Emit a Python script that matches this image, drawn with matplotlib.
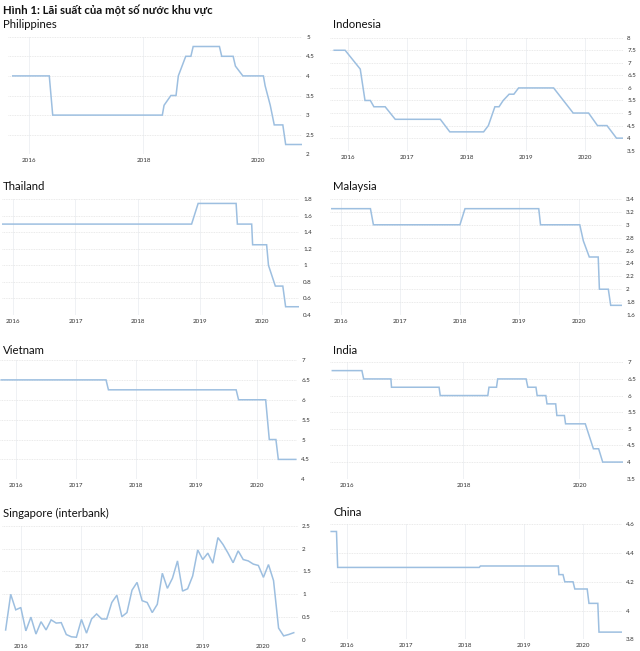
import matplotlib.pyplot as plt
import numpy as np

plt.rcParams['font.family'] = ['Lato', 'DejaVu Sans']

# decimal-year breakpoints and policy rates
ph_x = [2015.71, 2016.35, 2016.41, 2018.33, 2018.36, 2018.48, 2018.57, 2018.61, 2018.74, 2018.83,
        2018.87, 2019.33, 2019.37, 2019.57, 2019.61, 2019.74, 2020.10, 2020.13, 2020.22, 2020.29,
        2020.44, 2020.49, 2020.77]
ph_y = [4.0, 4.0, 3.0, 3.0, 3.25, 3.5, 3.5, 4.0, 4.5, 4.5,
        4.75, 4.75, 4.5, 4.5, 4.25, 4.0, 4.0, 3.75, 3.25, 2.75,
        2.75, 2.25, 2.25]

id_x = [2015.77, 2015.955, 2016.21, 2016.29, 2016.38, 2016.44, 2016.63, 2016.80, 2017.56, 2017.72,
        2018.29, 2018.37, 2018.48, 2018.55, 2018.62, 2018.72, 2018.80, 2018.88, 2019.47, 2019.80,
        2020.06, 2020.21, 2020.37, 2020.53, 2020.63]
id_y = [7.5, 7.5, 6.75, 5.5, 5.5, 5.25, 5.25, 4.75, 4.75, 4.25,
        4.25, 4.5, 5.25, 5.25, 5.5, 5.75, 5.75, 6.0, 6.0, 5.0,
        5.0, 4.5, 4.5, 4.0, 4.0]

th_x = [2015.83, 2018.865, 2018.97, 2019.58, 2019.60, 2019.83, 2019.845, 2020.07, 2020.10, 2020.21,
        2020.33, 2020.375, 2020.59]
th_y = [1.5, 1.5, 1.75, 1.75, 1.5, 1.5, 1.25, 1.25, 1.0, 0.75,
        0.75, 0.5, 0.5]

my_x = [2015.85, 2016.50, 2016.55, 2018.005, 2018.09, 2019.33, 2019.36, 2020.02, 2020.08, 2020.18,
        2020.33, 2020.35, 2020.50, 2020.54, 2020.72]
my_y = [3.25, 3.25, 3.0, 3.0, 3.25, 3.25, 3.0, 3.0, 2.75, 2.5,
        2.5, 2.0, 2.0, 1.75, 1.75]

vn_x = [2015.76, 2017.50, 2017.54, 2019.66, 2019.70, 2020.15, 2020.21, 2020.32, 2020.36, 2020.65]
vn_y = [6.5, 6.5, 6.25, 6.25, 6.0, 6.0, 5.0, 5.0, 4.5, 4.5]

in_x = [2015.74, 2016.25, 2016.28, 2016.75, 2016.76, 2017.58, 2017.60, 2018.42, 2018.44, 2018.57,
        2018.59, 2019.08, 2019.11, 2019.25, 2019.27, 2019.42, 2019.44, 2019.59, 2019.61, 2019.74,
        2019.76, 2020.10, 2020.24, 2020.33, 2020.40, 2020.75]
in_y = [6.75, 6.75, 6.5, 6.5, 6.25, 6.25, 6.0, 6.0, 6.25, 6.25,
        6.5, 6.5, 6.25, 6.25, 6.0, 6.0, 5.75, 5.75, 5.4, 5.4,
        5.15, 5.15, 4.4, 4.4, 4.0, 4.0]

# Singapore interbank, monthly from Oct 2015
sg_start = 2015.75
sg_y = [0.22, 1.0, 0.66, 0.71, 0.20, 0.50, 0.13, 0.40, 0.22, 0.44,
        0.37, 0.38, 0.12, 0.07, 0.06, 0.45, 0.15, 0.46, 0.57, 0.46,
        0.46, 0.82, 0.98, 0.51, 0.60, 1.09, 1.26, 0.86, 0.82, 0.60,
        0.78, 1.46, 1.13, 1.35, 1.73, 1.07, 1.12, 1.40, 1.97, 1.76,
        1.90, 1.68, 2.24, 2.09, 1.90, 1.69, 1.95, 1.76, 1.73, 1.66,
        1.63, 1.37, 1.65, 1.30, 0.26, 0.09, 0.12, 0.16]
sg_x = [sg_start + i / 12 for i in range(len(sg_y))]

cn_x = [2015.73, 2015.82, 2015.84, 2018.24, 2018.26, 2019.58, 2019.59, 2019.66, 2019.69, 2019.83,
        2019.86, 2020.07, 2020.10, 2020.25, 2020.27, 2020.65]
cn_y = [4.55, 4.55, 4.30, 4.30, 4.31, 4.31, 4.25, 4.25, 4.20, 4.20,
        4.15, 4.15, 4.05, 4.05, 3.85, 3.85]

W, H = 640, 651

# name, x, y, yticks, year ticks, pixel box (left, right, top, bottom), xlim, title pos
panels = [
    ("Philippines", ph_x, ph_y, np.arange(2, 5.01, 0.5), [2016, 2018, 2020],
     (8, 302, 36.7, 154.3), (2015.627, 2020.776), (3, 25)),
    ("Indonesia", id_x, id_y, np.arange(3.5, 8.01, 0.5), [2016, 2017, 2018, 2019, 2020],
     (330, 623, 37.7, 150.7), (2015.70, 2020.64), (333, 25)),
    ("Thailand", th_x, th_y, np.arange(0.4, 1.81, 0.2), [2016, 2017, 2018, 2019, 2020],
     (2, 299, 199.3, 315), (2015.82, 2020.59), (3, 187)),
    ("Malaysia", my_x, my_y, np.arange(1.6, 3.41, 0.2), [2016, 2017, 2018, 2019, 2020],
     (330, 622, 199, 315), (2015.82, 2020.73), (333, 187)),
    ("Vietnam", vn_x, vn_y, np.arange(4, 7.01, 0.5), [2016, 2017, 2018, 2019, 2020],
     (0, 297, 360, 479.3), (2015.74, 2020.67), (3, 351)),
    ("India", in_x, in_y, np.arange(3.5, 7.01, 0.5), [2016, 2018, 2020],
     (330, 623, 362.3, 478.7), (2015.70, 2020.75), (333, 350)),
    ("Singapore (interbank)", sg_x, sg_y, np.arange(0, 2.51, 0.5), [2016, 2017, 2018, 2019, 2020],
     (2, 298, 525.7, 640), (2015.69, 2020.57), (3, 513)),
    ("China", cn_x, cn_y, np.arange(3.8, 4.61, 0.2), [2016, 2017, 2018, 2019, 2020],
     (330, 622, 524.3, 639.3), (2015.71, 2020.66), (333, 513)),
]


def fmt(v):
    s = f"{v:.1f}"
    return s[:-2] if s.endswith(".0") else s


fig = plt.figure(figsize=(W / 100, H / 100), dpi=100)
fig.text(3 / W, 1 - 10 / H, "Hình 1: Lãi suất của một số nước khu vực",
         fontsize=8.2, fontweight="bold", va="center", ha="left", color="#111111")

for name, xs, ys, yt, years, box, xlim, tpos in panels:
    l, r, t, b = box
    ax = fig.add_axes([l / W, 1 - b / H, (r - l) / W, (b - t) / H])
    ax.plot(xs, ys, color="#9dbfe0", lw=1.1, solid_joinstyle="miter")
    ax.set_xlim(*xlim)
    ax.set_ylim(yt[0], yt[-1])
    ax.set_yticks(yt)
    ax.set_yticklabels([fmt(v) for v in yt])
    ax.set_xticks(years)
    ax.set_xticklabels([str(y) for y in years])
    ax.yaxis.tick_right()
    ax.tick_params(axis="both", length=0, labelsize=4.5, colors="#333333")
    ax.tick_params(axis="y", pad=3)
    ax.tick_params(axis="x", pad=3)
    ax.grid(True, axis="y", color="#e3e3e3", lw=0.6, ls=(0, (1, 1)))
    ax.grid(True, axis="x", color="#eceff3", lw=0.6)
    ax.set_axisbelow(True)
    for sp in ax.spines.values():
        sp.set_visible(False)
    fig.text(tpos[0] / W, 1 - tpos[1] / H, name, fontsize=8.2, va="center", ha="left",
             color="#111111")

fig.savefig("out.png", dpi=100)
